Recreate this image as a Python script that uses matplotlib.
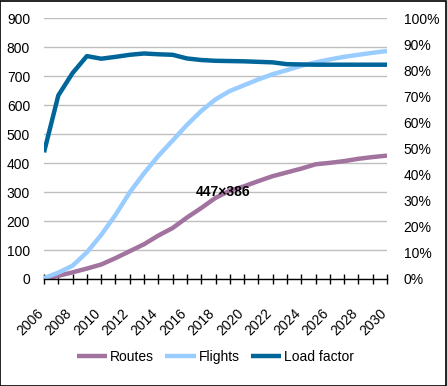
import matplotlib
matplotlib.use('Agg')
import matplotlib.pyplot as plt
import matplotlib.transforms as mtransforms
from matplotlib.ticker import FuncFormatter

plt.rcParams['font.family'] = ['Liberation Sans', 'DejaVu Sans']

years = list(range(2006, 2031))
routes = [0, 11, 23, 36, 50, 72, 96, 120, 150, 176, 212, 245, 280, 305, 320,
          338, 355, 368, 381, 396, 401, 407, 415, 421, 426]
flights = [3, 22, 46, 92, 152, 221, 299, 365, 425, 478, 532, 580, 620, 649, 669,
           689, 707, 721, 736, 748, 758, 767, 774, 781, 787]
load_factor = [0.486, 0.704, 0.79, 0.855, 0.845, 0.852, 0.86, 0.865, 0.862, 0.86,
               0.846, 0.840, 0.837, 0.836, 0.835, 0.833, 0.831, 0.824, 0.823,
               0.822, 0.822, 0.822, 0.822, 0.822, 0.822]
x_labels = [str(y) if (y - 2006) % 2 == 0 else '' for y in years]

fig = plt.figure(figsize=(4.47, 3.86), dpi=100)
ax = fig.add_axes([44 / 447, 1 - 279 / 386, (387 - 44) / 447, (279 - 18.3) / 386])
ax2 = ax.twinx()

ax.plot(years, routes, color='#A3739F', linewidth=3.2, label='Routes', solid_capstyle='butt')
ax.plot(years, flights, color='#99CCFF', linewidth=3.2, label='Flights', solid_capstyle='butt')
ax2.plot(years, load_factor, color='#006699', linewidth=3.2, label='Load factor', solid_capstyle='butt')

ax.set_xlim(2006, 2030)
ax.set_ylim(0, 900)
ax.set_yticks(range(0, 1000, 100))
ax2.set_ylim(0, 1)
ax2.set_yticks([i / 10 for i in range(11)])
ax2.yaxis.set_major_formatter(FuncFormatter(lambda v, p: f'{v * 100:.0f}%'))

ax.grid(axis='y', color='#BFBFBF', linewidth=1)
ax.set_axisbelow(True)
for a in (ax, ax2):
    for s in ('top', 'left', 'right', 'bottom'):
        a.spines[s].set_visible(False)
ax.spines['bottom'].set_visible(True)
ax.spines['bottom'].set_color('black')
ax.spines['bottom'].set_linewidth(1)

ax.tick_params(axis='y', length=0, pad=10, labelsize=10)
ax2.tick_params(axis='y', length=0, pad=12, labelsize=10)
ax.set_xticks(years)
ax.set_xticklabels(x_labels)
ax.tick_params(axis='x', direction='inout', length=7, width=1, pad=16, labelsize=10)
offset = mtransforms.ScaledTranslation(-8 / 100, 0, fig.dpi_scale_trans)
for lbl in ax.get_xticklabels():
    lbl.set_rotation(45)
    lbl.set_ha('right')
    lbl.set_va('top')
    lbl.set_rotation_mode('anchor')
    lbl.set_transform(lbl.get_transform() + offset)

h1, l1 = ax.get_legend_handles_labels()
h2, l2 = ax2.get_legend_handles_labels()
fig.legend(h1 + h2, l1 + l2, loc='center', bbox_to_anchor=(0.5 - 8 / 447, 1 - 357 / 386),
           ncol=3, frameon=False, fontsize=10, handlelength=2.2, handletextpad=0.2,
           columnspacing=0.8)

fig.text(223 / 447, 1 - 192 / 386, '447×386', ha='center', va='center',
         fontsize=10, fontweight='bold')

fig.patches.append(plt.Rectangle((0.001, 0.001), 0.997, 0.997, transform=fig.transFigure,
                                 fill=False, edgecolor='black', linewidth=1.2))

fig.savefig('out.png', dpi=100)
